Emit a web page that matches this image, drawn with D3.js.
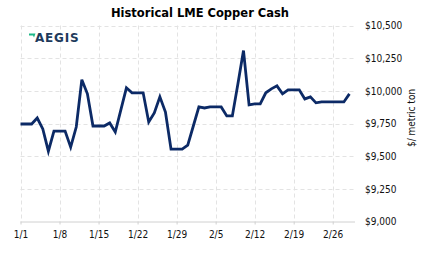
<!DOCTYPE html>
<html>
<head>
  <meta charset="utf-8">
  <title>Historical LME Copper Cash</title>
  <script src="https://d3js.org/d3.v7.min.js"></script>
  <style>
    body, html { margin: 0; padding: 0; background: #fff; overflow: hidden; }
    svg { display: block; }
    .tick-label { font-family: "DejaVu Sans Condensed", "DejaVu Sans", sans-serif; font-size: 10px; fill: #111; }
  </style>
</head>
<body>
  <svg id="chart" width="423" height="257"></svg>
  <script>
    // daily cash prices, 1 Jan 2022 onward (weekends carried forward)
    var startDate = new Date(2022, 0, 1);
    var prices = [
      9746, 9746, 9746, 9792, 9708, 9538, 9692, 9692, 9692, 9569,
      9723, 10085, 9977, 9731, 9731, 9731, 9754, 9685, 9854, 10023,
      9985, 9985, 9985, 9762, 9831, 9954, 9838, 9554, 9554, 9554,
      9585, 9731, 9877, 9869, 9877, 9877, 9877, 9808, 9808, 10054,
      10308, 9892, 9900, 9900, 9985, 10015, 10038, 9977, 10008, 10008,
      10008, 9938, 9954, 9908, 9915, 9915, 9915, 9915, 9915, 9977
    ];
    var xTickLabels = ["1/1", "1/8", "1/15", "1/22", "1/29", "2/5", "2/12", "2/19", "2/26"];
    var yTicks = [9000, 9250, 9500, 9750, 10000, 10250, 10500];

    var data = prices.map(function(v, i) {
      return { date: d3.timeDay.offset(startDate, i), value: v };
    });

    var svg = d3.select("#chart");
    var margin = { left: 20.5, right: 355, top: 25.5, bottom: 221.5 };

    var xScale = d3.scaleTime()
      .domain([startDate, d3.timeDay.offset(startDate, 60)])
      .range([margin.left, margin.right]);

    var yScale = d3.scaleLinear()
      .domain([9000, 10500])
      .range([margin.bottom, margin.top]);

    var xTicks = xTickLabels.map(function(t, i) { return d3.timeDay.offset(startDate, i * 7); });

    // gridlines
    svg.append("g")
      .selectAll("line")
      .data(yTicks.slice(1))
      .join("line")
      .attr("x1", margin.left).attr("x2", margin.right)
      .attr("y1", function(d) { return Math.round(yScale(d)) + 0.5; })
      .attr("y2", function(d) { return Math.round(yScale(d)) + 0.5; })
      .attr("stroke", "#e3e3e3")
      .attr("stroke-dasharray", "4,3");

    svg.append("g")
      .selectAll("line")
      .data(xTicks)
      .join("line")
      .attr("x1", function(d) { return Math.round(xScale(d)) + 0.5; })
      .attr("x2", function(d) { return Math.round(xScale(d)) + 0.5; })
      .attr("y1", margin.top).attr("y2", margin.bottom)
      .attr("stroke", "#e3e3e3")
      .attr("stroke-dasharray", "4,3");

    // bottom axis
    var xAxis = d3.axisBottom(xScale)
      .tickValues(xTicks)
      .tickFormat(function(d, i) { return xTickLabels[i]; })
      .tickSize(3)
      .tickPadding(4);

    var gx = svg.append("g")
      .attr("transform", "translate(0," + margin.bottom + ")")
      .call(xAxis);
    gx.select(".domain").attr("stroke", "#d0d0d0").attr("d", "M" + margin.left + ",0.5H" + margin.right);
    gx.selectAll(".tick line").attr("stroke", "#d0d0d0");
    gx.selectAll(".tick text").attr("class", "tick-label").attr("dy", "0.9em");

    // right axis labels
    var yAxis = d3.axisRight(yScale)
      .tickValues(yTicks)
      .tickFormat(function(d) { return "$" + d3.format(",")(d); })
      .tickSize(0)
      .tickPadding(10);

    var gy = svg.append("g")
      .attr("transform", "translate(" + margin.right + ",0)")
      .call(yAxis);
    gy.select(".domain").remove();
    gy.selectAll(".tick text").attr("class", "tick-label");

    // price line
    var line = d3.line()
      .x(function(d) { return xScale(d.date); })
      .y(function(d) { return yScale(d.value); });

    svg.append("path")
      .datum(data)
      .attr("d", line)
      .attr("fill", "none")
      .attr("stroke", "#0c2a66")
      .attr("stroke-width", 2.8)
      .attr("stroke-linejoin", "miter");

    // title
    svg.append("text")
      .attr("x", 200)
      .attr("y", 17)
      .attr("text-anchor", "middle")
      .style("font-family", "'DejaVu Sans', sans-serif")
      .style("font-weight", "bold")
      .style("font-size", "11.5px")
      .text("Historical LME Copper Cash");

    // axis title
    svg.append("text")
      .attr("transform", "translate(415,118) rotate(-90)")
      .attr("text-anchor", "middle")
      .attr("class", "tick-label")
      .text("$/ metric ton");

    // logo
    var logo = svg.append("g").attr("transform", "translate(29,33.5)");
    logo.append("path")
      .attr("d", "M0,0H6.5L5,4L4,2H0Z")
      .attr("fill", "#1db887");
    logo.append("text")
      .attr("x", 6)
      .attr("y", 8.5)
      .style("font-family", "'DejaVu Sans', sans-serif")
      .style("font-weight", "bold")
      .style("font-size", "12px")
      .style("letter-spacing", "0.8px")
      .attr("fill", "#1e3a5c")
      .text("AEGIS");
  </script>
</body>
</html>
